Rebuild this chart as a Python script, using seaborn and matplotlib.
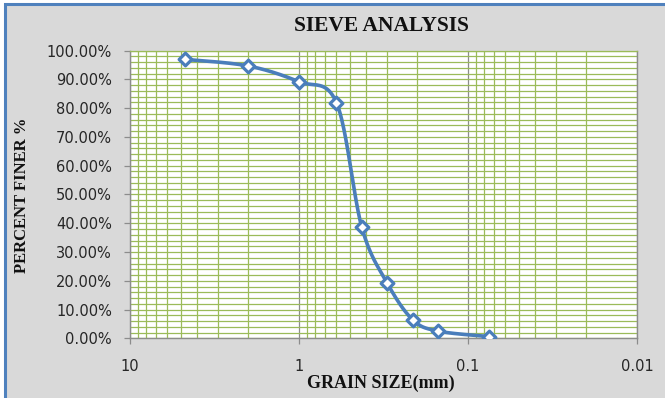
import numpy as np
import pandas as pd
import matplotlib
matplotlib.use("Agg")
import matplotlib.pyplot as plt
import seaborn as sns
from matplotlib.ticker import FuncFormatter, MultipleLocator, LogLocator, NullFormatter
from matplotlib.patches import Rectangle

# ---- data ----
grain_size_mm = [4.75, 2.0, 1.0, 0.6, 0.425, 0.3, 0.212, 0.15, 0.075]
percent_finer = [97.0, 94.7, 89.2, 81.9, 38.6, 19.1, 6.4, 2.5, 0.6]
x_tick_values = [10, 1, 0.1, 0.01]
x_tick_labels = ["10", "1", "0.1", "0.01"]
title_text = "SIEVE ANALYSIS"
xlabel_text = "GRAIN SIZE(mm)"
ylabel_text = "PERCENT FINER %"

BLUE = "#4a7ebb"
GREEN = "#9bbb59"
GRID_GRAY = "#8c8c8c"
BG = "#d9d9d9"

sns.set_theme(style="white")
plt.rcParams["font.family"] = ["DejaVu Sans"]

W_PX, H_PX = 665, 398
fig = plt.figure(figsize=(W_PX / 100, H_PX / 100), dpi=100)
fig.patch.set_facecolor("white")

# outer chart frame (gray area with blue border on left/top)
frame = Rectangle((5 / W_PX, -0.2), 1.5, 1 - 4 / H_PX + 0.2, transform=fig.transFigure,
                  facecolor=BG, edgecolor="#4f81bd", lw=2.2, zorder=-10)
fig.patches.append(frame)

left, right, top, bottom = 130, 637, 50.7, 338.3
ax = fig.add_axes([left / W_PX, 1 - bottom / H_PX, (right - left) / W_PX, (bottom - top) / H_PX])
ax.set_facecolor("white")

# smooth curve (Excel-like Catmull-Rom Bezier) computed in screen space
pw, ph = right - left, bottom - top
xs = np.array(grain_size_mm, dtype=float)
ys = np.array(percent_finer, dtype=float)
u = (1 - np.log10(xs)) * pw / 3.0
v = ys / 100.0 * ph
P = np.column_stack([u, v])
n = len(P)
curve = []
t = np.linspace(0, 1, 40)
for i in range(n - 1):
    p0 = P[i - 1] if i > 0 else P[i]
    p1, p2 = P[i], P[i + 1]
    p3 = P[i + 2] if i + 2 < n else P[i + 1]
    c1 = p1 + (p2 - p0) / 6.0
    c2 = p2 - (p3 - p1) / 6.0
    seg = ((1 - t) ** 3)[:, None] * p1 + (3 * (1 - t) ** 2 * t)[:, None] * c1 \
        + (3 * (1 - t) * t ** 2)[:, None] * c2 + (t ** 3)[:, None] * p2
    curve.append(seg if i == 0 else seg[1:])
curve = np.vstack(curve)
smooth_df = pd.DataFrame({
    "size": 10 ** (1 - curve[:, 0] * 3.0 / pw),
    "finer": curve[:, 1] / ph * 100.0,
})
pts_df = pd.DataFrame({"size": grain_size_mm, "finer": percent_finer})

sns.lineplot(data=smooth_df, x="size", y="finer", sort=False, estimator=None,
             color=BLUE, lw=2.6, ax=ax, zorder=3)
sns.scatterplot(data=pts_df, x="size", y="finer", marker="D", s=42,
                facecolor="white", edgecolor=BLUE, linewidth=2.3, ax=ax, zorder=4)

ax.set_xscale("log")
ax.set_xlim(10, 0.01)
ax.set_ylim(0, 100)

ax.set_xticks(x_tick_values)
ax.set_xticklabels(x_tick_labels)
ax.xaxis.set_minor_locator(LogLocator(base=10, subs=np.arange(2, 10)))
ax.xaxis.set_minor_formatter(NullFormatter())
ax.yaxis.set_major_locator(MultipleLocator(10))
ax.yaxis.set_minor_locator(MultipleLocator(2))
ax.yaxis.set_major_formatter(FuncFormatter(lambda val, pos: f"{val:.2f}%"))

ax.grid(which="minor", axis="x", color=GREEN, lw=0.9)
ax.grid(which="major", axis="x", color=GRID_GRAY, lw=0.9)
ax.grid(which="both", axis="y", color=GREEN, lw=0.9)
ax.set_axisbelow(True)

for side in ["left", "bottom", "right"]:
    ax.spines[side].set_visible(True)
    ax.spines[side].set_color(GRID_GRAY)
    ax.spines[side].set_linewidth(1.0)
ax.spines["top"].set_color(GREEN)
ax.spines["top"].set_linewidth(0.9)

ax.tick_params(axis="x", which="major", direction="out", length=4, width=0.9,
               color=GRID_GRAY, pad=11, labelsize=10.5, labelcolor="#262626", bottom=True)
ax.tick_params(axis="y", which="major", direction="out", length=4, width=0.9,
               color=GRID_GRAY, pad=9, labelsize=10.5, labelcolor="#262626", left=True)
ax.tick_params(which="minor", length=0)

ax.set_xlabel("")
ax.set_ylabel("")

serif = ["Liberation Serif", "DejaVu Serif"]
fig.text(381 / W_PX, 1 - 26 / H_PX, title_text, ha="center", va="center",
         fontsize=15.5, fontweight="bold", family=serif, color="#111111")
fig.text(381 / W_PX, 1 - 383 / H_PX, xlabel_text, ha="center", va="center",
         fontsize=13, fontweight="bold", family=serif, color="#111111")
fig.text(22 / W_PX, 1 - 195 / H_PX, ylabel_text, ha="center", va="center", rotation=90,
         fontsize=12, fontweight="bold", family=serif, color="#111111")

fig.savefig("out.png", dpi=100, facecolor=fig.get_facecolor())
